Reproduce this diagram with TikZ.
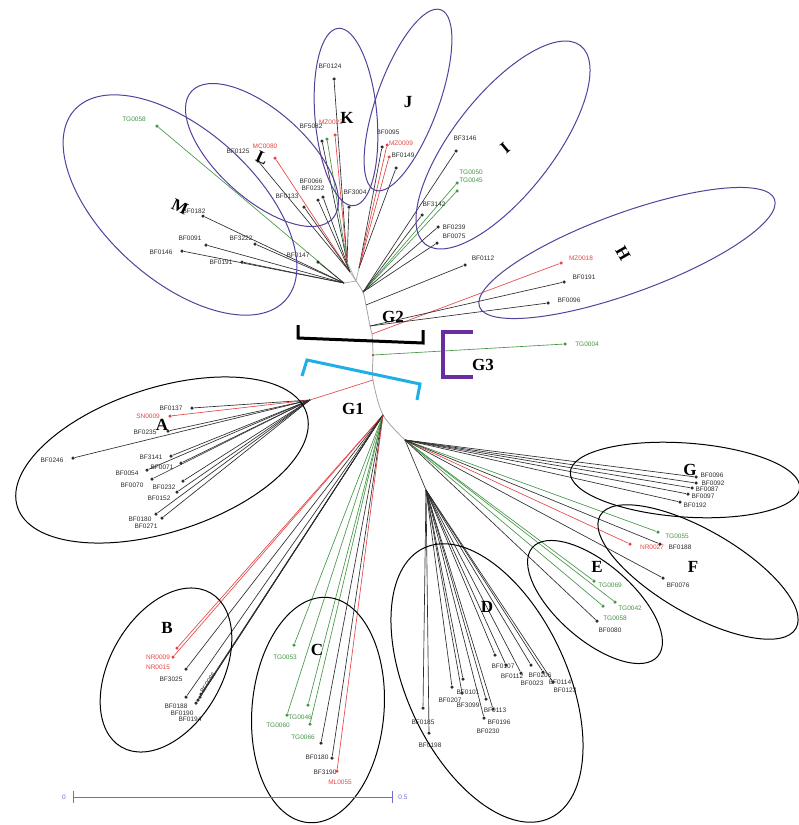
\documentclass[tikz,border=0pt]{standalone}
\usepackage{fontspec}
\setmainfont{Liberation Serif}
\newfontfamily\labfont{Liberation Sans}
\usetikzlibrary{shapes.geometric}
\definecolor{cblk}{RGB}{45,45,45}
\definecolor{cgrn}{RGB}{70,150,70}
\definecolor{cred}{RGB}{230,70,70}
\definecolor{cgray}{RGB}{165,165,165}
\definecolor{cpur}{RGB}{85,65,155}
\definecolor{ccyan}{RGB}{30,175,230}
\definecolor{cbrk}{RGB}{105,45,160}
\definecolor{cscale}{RGB}{110,110,210}
\definecolor{cbrown}{RGB}{150,80,40}
\newcommand\lf[9][]{%
  \node[dot,fill=#5] (#2) at (#3,#4) {};
  \draw[br,#5] (#9) -- (#2);
  \node[lab,text=#5,#1] (#2l) at (#7,#8) {#6};}
\newcommand\ld[5]{%
  \node[dot,fill=#4] (#1) at (#2,#3) {};
  \draw[br,#4] (#5) -- (#1);}
\begin{document}
\begin{tikzpicture}[x=1pt,y=-1pt,
  dot/.style={circle,inner sep=0pt,minimum size=3.5pt,draw=none},
  lab/.style={font=\labfont\fontsize{6.5}{7}\selectfont,inner sep=0pt},
  grp/.style={font=\bfseries\fontsize{17}{17}\selectfont,inner sep=0pt,text=black},
  ov/.style={ellipse,draw,line width=1pt,inner sep=0pt},
  br/.style={line width=0.65pt},
  brk/.style={line width=3pt}]
\useasboundingbox[fill=white] (0,0) rectangle (799,825);

% trunk
\coordinate (tTop) at (356,281);
\coordinate (ih) at (363,292);
\coordinate (t2b) at (366,305);
\coordinate (hh) at (370,326);
\coordinate (hr) at (372,334);
\coordinate (t3) at (373,355);
\coordinate (ta) at (373,380);
\coordinate (bc) at (383,415);
\coordinate (ef) at (405,440);
\coordinate (mh) at (344,283);
\coordinate (lh) at (350,272);
\coordinate (kh) at (347,262);
\coordinate (jh) at (359,268);
\coordinate (a0) at (310,400);
\coordinate (d1) at (426,490);
\draw[cgray,line width=0.8pt] plot[smooth] coordinates {(tTop) (ih) (t2b) (hh) (hr) (t3) (ta) (bc) (ef)};
\draw[cgray,br] (mh) -- (tTop);
\draw[cgray,br] (lh) -- (tTop);
\draw[cgray,br] (kh) -- (tTop);
\draw[cgray,br] (jh) -- (tTop);
\draw[cred,br] (ta) -- (a0);
\draw[cblk,br] (ef) -- (d1);
\node[dot,fill=cbrown,minimum size=2.5pt] (g3n) at (t3) {};

% M
\lf{m58}{157}{126}{cgrn}{TG0058}{134}{119}{mh}
\lf{m182}{203}{216}{cblk}{BF0182}{194}{211}{mh}
\lf{m91}{206}{245}{cblk}{BF0091}{190}{238}{mh}
\lf{m146}{182}{251}{cblk}{BF0146}{161}{252}{mh}
\lf{m3222}{255}{244}{cblk}{BF3222}{241}{238}{mh}
\lf{m191}{242}{262}{cblk}{BF0191}{221}{262}{mh}
\lf{m147}{318}{262}{cblk}{BF0147}{298}{255}{mh}
% L
\lf{l125}{258}{161}{cblk}{BF0125}{238}{151}{lh}
\lf{l80}{275}{158}{cred}{MC0080}{265}{146}{lh}
\lf{l66}{318}{200}{cblk}{BF0066}{311}{181}{lh}
\lf{l232}{323}{197}{cblk}{BF0232}{313}{188}{lh}
\lf{l133}{304}{207}{cblk}{BF0133}{287}{196}{lh}
% K
\lf{k124}{334}{79}{cblk}{BF0124}{330}{66}{kh}
\lf{k82}{322}{141}{cblk}{BF5082}{311}{126}{kh}
\ld{k50}{327}{139}{cgrn}{kh}
\lf{k23}{335}{135}{cred}{MZ0023}{331}{122}{kh}
\lf{k3004}{349}{207}{cblk}{BF3004}{355}{192}{kh}
% J
\lf{j95}{382}{147}{cblk}{BF0095}{388}{132}{jh}
\lf{j09}{387}{145}{cred}{MZ0009}{401}{143}{jh}
\lf[text=cblk]{j149}{389}{157}{cred}{BF0149}{403}{155}{jh}
\ld{j168}{396}{168}{cblk}{jh}
% I
\lf{i146}{456}{151}{cblk}{BF3146}{465}{138}{ih}
\lf{i50}{457}{183}{cgrn}{TG0050}{471}{172}{ih}
\lf{i45}{457}{191}{cgrn}{TG0045}{471}{180}{ih}
\lf{i142}{422}{215}{cblk}{BF3142}{434}{204}{ih}
\lf{i239}{438}{227}{cblk}{BF0239}{454}{227}{ih}
\lf{i75}{437}{243}{cblk}{BF0075}{454}{236}{ih}
\lf{i112}{465}{265}{cblk}{BF0112}{483}{258}{t2b}
% H
\lf{h18}{561}{263}{cred}{MZ0018}{581}{258}{hr}
\lf{h191}{564}{282}{cblk}{BF0191}{584}{277}{hh}
\lf{h96}{548}{303}{cblk}{BF0096}{569}{300}{hh}
% G3
\lf{g3l}{565}{344}{cgrn}{TG0004}{587}{344}{t3}
% A
\lf{a137}{192}{408}{cblk}{BF0137}{171}{408}{a0}
\lf{a09}{170}{416}{cred}{SN0009}{148}{416}{a0}
\lf{a235}{168}{431}{cblk}{BF0235}{145}{432}{a0}
\lf{a246}{73}{458}{cblk}{BF0246}{52}{460}{a0}
\lf{a141}{171}{456}{cblk}{BF3141}{151}{457}{a0}
\lf{a71}{181}{463}{cblk}{BF0071}{162}{467}{a0}
\lf{a54}{147}{470}{cblk}{BF0054}{127}{473}{a0}
\lf{a70}{152}{479}{cblk}{BF0070}{132}{485}{a0}
\lf{a232}{183}{481}{cblk}{BF0232}{164}{487}{a0}
\lf{a152}{177}{492}{cblk}{BF0152}{159}{498}{a0}
\lf{a180}{156}{514}{cblk}{BF0180}{140}{519}{a0}
\lf{a271}{162}{518}{cblk}{BF0271}{146}{526}{a0}
% B
\lf{b15}{177}{648}{cred}{NR0015}{158}{667}{bc}
\lf{b09}{173}{657}{cred}{NR0009}{158}{657}{bc}
\lf{b25}{186}{669}{cblk}{BF3025}{171}{679}{bc}
\lf{b88}{186}{697}{cblk}{BF0188}{176}{706}{bc}
\ld{bx1}{196}{703}{cblk}{bc}
\ld{bx2}{198}{700}{cblk}{bc}
\ld{bx3}{200}{697}{cblk}{bc}
\ld{bx4}{201}{694}{cblk}{bc}
\node[lab,text=cblk] (bxl1) at (182,713) {BF0190};
\node[lab,text=cblk] (bxl2) at (190,719) {BF0194};
\node[lab,text=cblk,rotate=57] (bxl4) at (208,683) {BF0086};
% C
\lf{c53}{294}{645}{cgrn}{TG0053}{285}{657}{bc}
\lf{c46}{308}{705}{cgrn}{TG0046}{300}{717}{bc}
\lf{c60}{287}{715}{cgrn}{TG0060}{278}{725}{bc}
\lf{c66}{310}{724}{cgrn}{TG0066}{303}{737}{bc}
\lf{c180}{321}{743}{cblk}{BF0180}{317}{757}{bc}
\lf{c190}{332}{758}{cblk}{BF3190}{325}{772}{bc}
\lf{c55}{337}{771}{cred}{ML0055}{340}{782}{bc}
% D
\lf{d185}{423}{708}{cblk}{BF0185}{423}{722}{d1}
\lf{d198}{429}{733}{cblk}{BF0198}{430}{745}{d1}
\lf{d207}{452}{687}{cblk}{BF0207}{450}{700}{d1}
\lf{d101}{463}{679}{cblk}{BF0101}{468}{692}{d1}
\lf{d099}{462}{693}{cblk}{BF3099}{468}{705}{d1}
\lf{d113}{486}{699}{cblk}{BF0113}{495}{710}{d1}
\lf{d196}{493}{709}{cblk}{BF0196}{499}{722}{d1}
\lf{d230}{484}{718}{cblk}{BF0230}{488}{731}{d1}
\lf{d107}{495}{655}{cblk}{BF0107}{503}{666}{d1}
\lf{d112}{506}{665}{cblk}{BF0112}{512}{676}{d1}
\lf{d023}{521}{673}{cblk}{BF0023}{532}{683}{d1}
\lf{d206}{531}{665}{cblk}{BF0206}{540}{675}{d1}
\lf{d114}{543}{672}{cblk}{BF0114}{560}{682}{d1}
\lf{d123}{553}{682}{cblk}{BF0123}{565}{690}{d1}
% E
\lf{e69}{594}{581}{cgrn}{TG0069}{610}{585}{ef}
\lf{e42}{615}{602}{cgrn}{TG0042}{630}{608}{ef}
\lf{e58}{603}{606}{cgrn}{TG0058}{615}{618}{ef}
\lf{e80}{597}{621}{cblk}{BF0080}{610}{630}{ef}
% F
\lf{f55}{658}{532}{cgrn}{TG0055}{677}{536}{ef}
\lf{f27}{630}{544}{cred}{NR0027}{652}{547}{ef}
\lf{f188}{660}{544}{cblk}{BF0188}{680}{547}{ef}
\lf{f76}{663}{578}{cblk}{BF0076}{678}{585}{ef}
% G
\lf{g96}{696}{477}{cblk}{BF0096}{712}{475}{ef}
\lf{g92}{696}{483}{cblk}{BF0092}{713}{483}{ef}
\lf{g87}{692}{488}{cblk}{BF0087}{707}{489}{ef}
\lf{g97}{688}{494}{cblk}{BF0097}{703}{496}{ef}
\lf{g192}{680}{502}{cblk}{BF0192}{695}{505}{ef}

% ellipses
\node[ov,draw=cpur,minimum width=284pt,minimum height=150pt,rotate=-42] (eM) at (180,205) {};
\node[ov,draw=cpur,minimum width=190pt,minimum height=88pt,rotate=-42] (eL) at (262,155) {};
\node[ov,draw=cpur,minimum width=62pt,minimum height=178pt,rotate=5] (eK) at (346,117) {};
\node[ov,draw=cpur,minimum width=62pt,minimum height=192pt,rotate=-20] (eJ) at (408,100) {};
\node[ov,draw=cpur,minimum width=100pt,minimum height=252pt,rotate=-38] (eI) at (503,145) {};
\node[ov,draw=cpur,minimum width=314pt,minimum height=80pt,rotate=20] (eH) at (627,253) {};
\node[ov,draw=black,minimum width=304pt,minimum height=144pt,rotate=18] (eA) at (162,460) {};
\node[ov,draw=black,minimum width=178pt,minimum height=112pt,rotate=60] (eB) at (166,670) {};
\node[ov,draw=black,minimum width=132pt,minimum height=226pt,rotate=-5] (eC) at (318,710) {};
\node[ov,draw=black,minimum width=160pt,minimum height=298pt,rotate=25] (eD) at (487,683) {};
\node[ov,draw=black,minimum width=166pt,minimum height=76pt,rotate=-41] (eE) at (595,602) {};
\node[ov,draw=black,minimum width=226pt,minimum height=84pt,rotate=-30] (eF) at (698,572) {};
\node[ov,draw=black,minimum width=230pt,minimum height=74pt,rotate=-4] (eG) at (685,480) {};

% group letters
\node[grp,rotate=-25] (tM) at (180,207) {M};
\node[grp,rotate=-25] (tL) at (262,158) {L};
\node[grp] (tK) at (347,118) {K};
\node[grp] (tJ) at (408,102) {J};
\node[grp,rotate=40] (tI) at (505,148) {I};
\node[grp,rotate=-60] (tH) at (623,253) {H};
\node[grp] (tA) at (162,425) {A};
\node[grp] (tB) at (167,628) {B};
\node[grp] (tC) at (317,650) {C};
\node[grp] (tD) at (487,607) {D};
\node[grp] (tE) at (597,567) {E};
\node[grp] (tF) at (693,567) {F};
\node[grp] (tG) at (690,470) {G};
\node[grp] (tG1) at (353,409) {G1};
\node[grp] (tG2) at (393,317) {G2};
\node[grp] (tG3) at (483,365) {G3};

% brackets
\draw[brk,black] (298,325) -- (298,338) -- (423,343) -- (423,330);
\draw[brk,ccyan] (302,376) -- (307,360) -- (420,384) -- (417,400);
\draw[line width=3.5pt,cbrk] (473,332) -- (443,332) -- (443,377) -- (473,377);

% scale bar
\coordinate (s0) at (73,797);
\coordinate (s1) at (392,797);
\draw[cscale,line width=0.8pt] (s0) -- (s1);
\draw[cscale,line width=0.8pt] (73,791) -- (73,803);
\draw[cscale,line width=0.8pt] (392,791) -- (392,803);
\node[lab,text=cscale] (s0l) at (64,797) {0};
\node[lab,text=cscale] (s1l) at (403,797) {0.5};
\end{tikzpicture}
\end{document}
